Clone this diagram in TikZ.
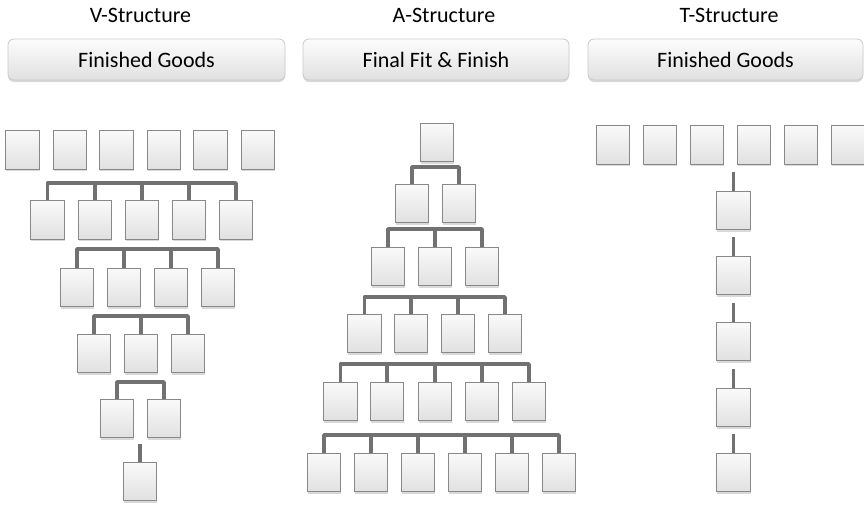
\documentclass[tikz,border=0pt]{standalone}
\usepackage{fontspec}
\setmainfont{Carlito}
\usetikzlibrary{shadows}
\definecolor{boxline}{HTML}{888888}
\definecolor{conncol}{HTML}{717171}
\definecolor{hdrline}{HTML}{CACACA}
\begin{document}
\begin{tikzpicture}[x=1pt,y=-1pt,
  bx/.style={draw=boxline, line width=1pt, minimum width=33.5pt, minimum height=38.5pt, inner sep=0pt,
    top color=black!2, bottom color=black!12,
    drop shadow={shadow xshift=0.5pt, shadow yshift=-1.8pt, opacity=0.3}},
  hdr/.style={draw=hdrline, rounded corners=6pt, line width=0.8pt, top color=black!1, bottom color=black!12,
    minimum height=41pt, inner sep=0pt, font=\fontsize{22}{26}\selectfont, text height=15pt, text depth=0pt,
    drop shadow={shadow xshift=0pt, shadow yshift=-2pt, opacity=0.3}},
  ttl/.style={font=\fontsize{22}{26}\selectfont, anchor=base, inner sep=0pt},
  conn/.style={draw=conncol, line width=3.6pt, line join=round}]
\useasboundingbox (0,0) rectangle (864,507);

% titles and headers
\node[ttl] (vt) at (140.5,22) {V-Structure};
\node[ttl] (at) at (444,22) {A-Structure};
\node[ttl] (tt) at (729,22) {T-Structure};
\node[hdr, minimum width=277pt] (vh) at (146.5,59.5) {Finished Goods};
\node[hdr, minimum width=266pt] (ah) at (436,59.5) {Final Fit \& Finish};
\node[hdr, minimum width=275pt] (th) at (725.5,59.5) {Finished Goods};

% ---------------- V structure ----------------
\foreach \x [count=\i] in {22.5,70,116.5,164,210.5,258} \node[bx] (v1\i) at (\x,150) {};
\foreach \x [count=\i] in {47.5,95,142,189,236} \node[bx] (v2\i) at (\x,220) {};
\foreach \x [count=\i] in {77,124,171,218} \node[bx] (v3\i) at (\x,287.5) {};
\foreach \x [count=\i] in {94,141,188} \node[bx] (v4\i) at (\x,353.5) {};
\foreach \x [count=\i] in {117,164} \node[bx] (v5\i) at (\x,418.5) {};
\node[bx] (v61) at (140,481.5) {};

\coordinate (vb2) at (0,183);
\coordinate (vb3) at (0,249);
\coordinate (vb4) at (0,316);
\coordinate (vb5) at (0,382);
\coordinate (vb6) at (140,444);
\draw[conn] (v21.north) -- (v21.north |- vb2) -- (v25.north |- vb2) -- (v25.north);
\foreach \i in {2,3,4} \draw[conn] (v2\i.north) -- (v2\i.north |- vb2);
\draw[conn] (v31.north) -- (v31.north |- vb3) -- (v34.north |- vb3) -- (v34.north);
\foreach \i in {2,3} \draw[conn] (v3\i.north) -- (v3\i.north |- vb3);
\draw[conn] (v41.north) -- (v41.north |- vb4) -- (v43.north |- vb4) -- (v43.north);
\draw[conn] (v42.north) -- (v42.north |- vb4);
\draw[conn] (v51.north) -- (v51.north |- vb5) -- (v52.north |- vb5) -- (v52.north);
\draw[conn] (vb6) -- (v61.north);

% ---------------- A structure ----------------
\node[bx] (a11) at (437,142.5) {};
\foreach \x [count=\i] in {412,459} \node[bx] (a2\i) at (\x,203.5) {};
\foreach \x [count=\i] in {388,435,482} \node[bx] (a3\i) at (\x,266.5) {};
\foreach \x [count=\i] in {364.5,411,458,505} \node[bx] (a4\i) at (\x,333.5) {};
\foreach \x [count=\i] in {340.5,387,435,482,529} \node[bx] (a5\i) at (\x,401.5) {};
\foreach \x [count=\i] in {324,371,418,465,512,559} \node[bx] (a6\i) at (\x,472.5) {};

\coordinate (ab2) at (0,167);
\coordinate (ab3) at (0,229);
\coordinate (ab4) at (0,297);
\coordinate (ab5) at (0,364);
\coordinate (ab6) at (0,435);
\draw[conn] (a21.north) -- (a21.north |- ab2) -- (a22.north |- ab2) -- (a22.north);
\draw[conn] (a31.north) -- (a31.north |- ab3) -- (a33.north |- ab3) -- (a33.north);
\draw[conn] (a32.north) -- (a32.north |- ab3);
\draw[conn] (a41.north) -- (a41.north |- ab4) -- (a44.north |- ab4) -- (a44.north);
\foreach \i in {2,3} \draw[conn] (a4\i.north) -- (a4\i.north |- ab4);
\draw[conn] (a51.north) -- (a51.north |- ab5) -- (a55.north |- ab5) -- (a55.north);
\foreach \i in {2,3,4} \draw[conn] (a5\i.north) -- (a5\i.north |- ab5);
\draw[conn] (a61.north) -- (a61.north |- ab6) -- (a66.north |- ab6) -- (a66.north);
\foreach \i in {2,3,4,5} \draw[conn] (a6\i.north) -- (a6\i.north |- ab6);

% ---------------- T structure ----------------
\foreach \x [count=\i] in {613,660,707,754,801,848} \node[bx] (t1\i) at (\x,145) {};
\foreach \y [count=\i] in {210.5,275.5,341.5,407.5,472.5} {
  \node[bx] (tc\i) at (733.5,\y) {};
  \coordinate (ts\i) at (733.5,\y-38.5);
  \draw[conn] (ts\i) -- (tc\i.north);
}
\end{tikzpicture}
\end{document}
